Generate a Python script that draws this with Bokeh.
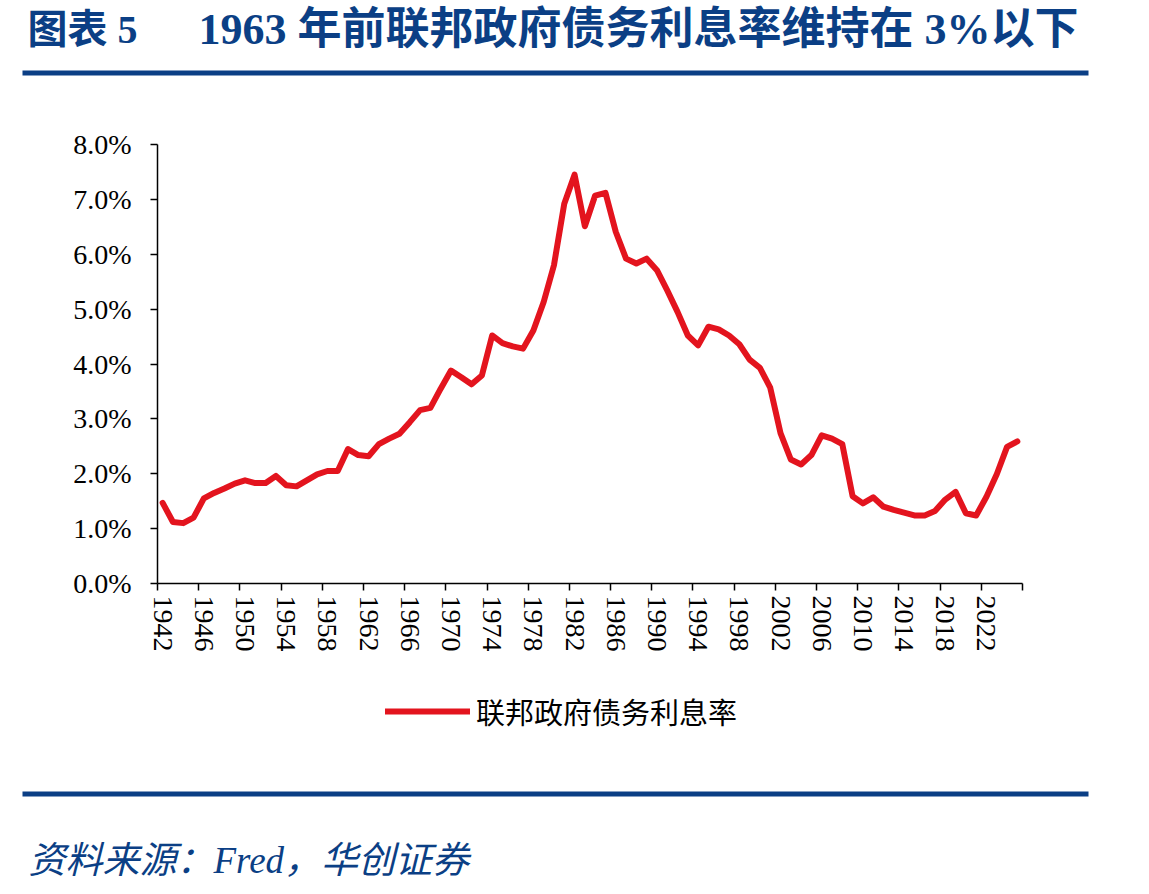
from bokeh.plotting import figure
from bokeh.layouts import column
from bokeh.models import (Range1d, FixedTicker, NumeralTickFormatter,
                          Legend, LegendItem, ColumnDataSource)
from bokeh.core.properties import value
from bokeh.embed import file_html
from bokeh.resources import INLINE

# ---- data ----
years = list(range(1942, 2026))
rate_pct = [
    1.47, 1.12, 1.10, 1.20, 1.55, 1.65, 1.73, 1.82, 1.88, 1.83,   # 1942-1951
    1.83, 1.96, 1.79, 1.77, 1.88, 1.99, 2.05, 2.05, 2.45, 2.34,   # 1952-1961
    2.32, 2.54, 2.64, 2.73, 2.94, 3.16, 3.20, 3.55, 3.88, 3.76,   # 1962-1971
    3.63, 3.79, 4.52, 4.38, 4.32, 4.28, 4.61, 5.13, 5.80, 6.92,   # 1972-1981
    7.45, 6.51, 7.07, 7.12, 6.41, 5.92, 5.83, 5.92, 5.71, 5.34,   # 1982-1991
    4.95, 4.52, 4.34, 4.68, 4.63, 4.52, 4.36, 4.08, 3.93, 3.57,   # 1992-2001
    2.74, 2.26, 2.17, 2.34, 2.70, 2.64, 2.54, 1.59, 1.46, 1.57,   # 2002-2011
    1.40, 1.34, 1.29, 1.24, 1.24, 1.32, 1.53, 1.67, 1.28, 1.24,   # 2012-2021
    1.58, 1.99, 2.49, 2.59,                                       # 2022-2025
]
tick_years = list(range(1942, 2023, 4))
series_name = "联邦政府债务利息率"
title_left = "图表 5"
title_right = "1963 年前联邦政府债务利息率维持在 3%以下"
source_text = "资料来源：Fred，华创证券"

# ---- styles ----
RED = "#E3141E"
BLUE = "#0B3F85"
SERIF = "'Liberation Serif', 'Noto Sans CJK SC', serif"
CJK = "'Noto Sans CJK SC', sans-serif"

W = 1149
H_HEAD, H_MAIN, H_FOOT = 110, 550, 234          # 110 + 550 + 234 = 894
FL, FR, FT, FB = 157, 1022, 144, 583             # frame edges in page pixels
Y_FOOT = H_HEAD + H_MAIN                          # page y of footer top


def blank(height):
    f = figure(width=W, height=height, output_backend="svg", toolbar_location=None,
               x_range=Range1d(0, W), y_range=Range1d(height, 0),
               x_axis_location=None, y_axis_location=None,
               min_border=0, frame_align=False)
    f.min_border_left = f.min_border_right = 0
    f.min_border_top = f.min_border_bottom = 0
    f.outline_line_color = None
    f.grid.visible = False
    return f


# ---- header: title + rule ----
head = blank(H_HEAD)
head.text(x=[27], y=[29], text=[title_left], text_font=value(SERIF),
          text_font_size="40px", text_font_style="bold", text_color=BLUE,
          text_baseline="middle")
head.text(x=[198], y=[29], text=[title_right], text_font=value(SERIF),
          text_font_size="44px", text_font_style="bold", text_color=BLUE,
          text_baseline="middle")
head.rect(x=[555], y=[72.5], width=[1066], height=[5], fill_color=BLUE,
          line_color=None)

# ---- main chart ----
src = ColumnDataSource(dict(x=[y + 0.5 for y in years], y=[v / 100 for v in rate_pct]))

p = figure(width=W, height=H_MAIN, output_backend="svg", toolbar_location=None,
           x_range=Range1d(1942, 2026), y_range=Range1d(0, 0.08),
           min_border_left=FL, min_border_right=W - FR,
           min_border_top=FT - H_HEAD, min_border_bottom=Y_FOOT - FB,
           frame_align=False)
p.outline_line_color = None
p.grid.visible = False

r = p.line("x", "y", source=src, line_color=RED, line_width=6,
           line_join="round", line_cap="round")

xa = p.xaxis[0]
xa.ticker = FixedTicker(ticks=[t + 0.5 for t in tick_years],
                        minor_ticks=list(range(1942, 2027, 4)))
xa.major_label_overrides = {t + 0.5: str(t) for t in tick_years}
xa.major_tick_out = 0
xa.major_tick_in = 0
xa.minor_tick_out = 7
xa.minor_tick_in = 0
xa.minor_tick_line_color = "black"
xa.minor_tick_line_width = 1.5
xa.axis_line_color = "black"
xa.axis_line_width = 1.5
xa.major_label_orientation = "vertical"
xa.major_label_standoff = 5
xa.major_label_text_font = SERIF
xa.major_label_text_font_size = "28px"
xa.major_label_text_color = "black"

ya = p.yaxis[0]
ya.ticker = FixedTicker(ticks=[i / 100 for i in range(0, 9)])
ya.formatter = NumeralTickFormatter(format="0.0%")
ya.major_tick_out = 7
ya.major_tick_in = 0
ya.minor_tick_out = 0
ya.minor_tick_in = 0
ya.major_tick_line_color = "black"
ya.major_tick_line_width = 1.5
ya.axis_line_color = "black"
ya.axis_line_width = 1.5
ya.major_label_standoff = 19
ya.major_label_text_font = SERIF
ya.major_label_text_font_size = "28px"
ya.major_label_text_color = "black"

# ---- footer: legend + rule + source ----
foot = blank(H_FOOT)
# legend key renderer (same style as the series line; its point lies off-range)
key = foot.line(x=[-100, -90], y=[-100, -100], line_color=RED, line_width=6,
                line_cap="round")
LEG_H = 28
leg = Legend(items=[LegendItem(label=series_name, renderers=[key])],
             location=(385, H_FOOT - (718 - Y_FOOT) - LEG_H / 2),
             glyph_width=85, glyph_height=LEG_H, label_height=LEG_H,
             label_standoff=6, padding=0, margin=0, spacing=0,
             border_line_color=None, background_fill_alpha=0,
             label_text_font=CJK, label_text_font_size="29px",
             label_text_color="black", label_text_baseline="middle")
foot.add_layout(leg, "center")
foot.rect(x=[555], y=[793.5 - Y_FOOT], width=[1066], height=[5], fill_color=BLUE,
          line_color=None)
foot.text(x=[28], y=[860 - Y_FOOT], text=[source_text], text_font=value(SERIF),
          text_font_size="37px", text_font_style="italic", text_color=BLUE,
          text_baseline="middle")

layout = column(head, p, foot, spacing=0)
open("out.html", "w").write(file_html(layout, INLINE))
